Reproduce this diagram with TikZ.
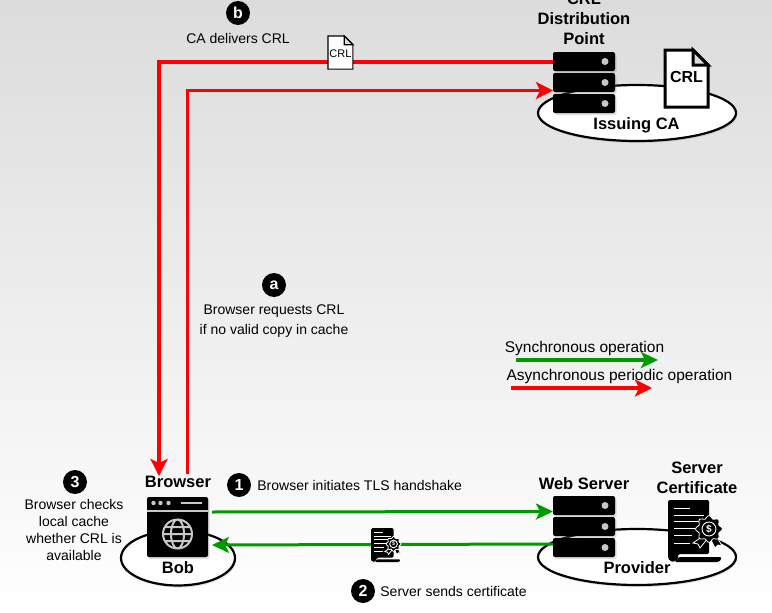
\documentclass[tikz,border=0pt]{standalone}
\usepackage{fontspec}
\setmainfont{Liberation Sans}
\usepackage{tikz}
\usetikzlibrary{shapes.geometric, arrows.meta, positioning, shadows}
\definecolor{bggray}{HTML}{DCDCDC}
\definecolor{syncgreen}{HTML}{009900}
\definecolor{iconlight}{HTML}{C8C8C8}
\tikzstyle{site} = [ellipse, draw = black, fill = white, line width = 2.2pt, inner sep = 0pt,
drop shadow = {shadow xshift = 1pt, shadow yshift = -2pt, opacity = 0.25}]
\tikzstyle{rack} = [rectangle, rounded corners = 2pt, fill = black, minimum width = 62pt, minimum height = 19pt,
inner sep = 0pt, outer sep = 0pt, drop shadow = {shadow xshift = 1.5pt, shadow yshift = -2pt, opacity = 0.25}]
\tikzstyle{title} = [font = \fontsize{16.5}{20}\selectfont\bfseries, align = center, inner sep = 0pt]
\tikzstyle{caption} = [font = \fontsize{14}{20}\selectfont, align = center, inner sep = 0pt]
\tikzstyle{badge} = [circle, fill = black, text = white, minimum size = 24pt, inner sep = 0pt,
font = \fontsize{16}{16}\selectfont\bfseries]
\tikzstyle{redarrow} = [-{Stealth[length = 17pt, width = 17pt, inset = 4pt]}, red]
\tikzstyle{greenarrow} = [-{Stealth[length = 17pt, width = 16pt, inset = 4pt]}, syncgreen, line width = 3pt]
\tikzset{
  pics/crldoc/.style = {code = {
    \draw[fill = white] (0,0) -- (28,0) -- (43,15) -- (43,57) -- (0,57) -- cycle;
    \draw[fill = bggray] (28,0) -- (28,15) -- (43,15) -- cycle;
    \node[inner sep = 0pt] (-label) at (21.5,#1) {CRL};
  }},
  pics/certdoc/.style = {code = {
    \fill[rounded corners = 1.5pt] (0,0) -- (41,0) -- (41,54) -- (10,54) -- (10,59) -- (6,62) -- (2,61) -- (0,58) -- cycle;
    \fill[rounded corners = 1pt] (11,57) -- (53,57) -- (53,60) -- (50,62) -- (7,62) -- cycle;
    \draw[white, line width = 1pt] (6,8) -- (22,8) (6,15) -- (36,15) (6,21) -- (36,21) (6,28) -- (30,28) (6,35) -- (24,35) (6,43) -- (22,43);
    \begin{scope}[shift = {(41,29)}]
      \draw[white, fill = black, line width = 0.8pt] (7,6) -- (13,17) -- (9,16) -- (6,19) -- (1,9) -- cycle;
      \draw[white, fill = black, line width = 0.8pt] (-6,7) -- (-16,14) -- (-11,15) -- (-9,19) -- (-1,9) -- cycle;
      \draw[white, fill = black, line width = 0.8pt] plot[domain = 0:360, samples = 65] ({(12+1.4*cos(8*\x))*cos(\x)},{(12+1.4*cos(8*\x))*sin(\x)}) -- cycle;
      \draw[white, line width = 0.9pt] (0,0) circle (7);
      \node[transform shape, text = white, inner sep = 0pt, font = \fontsize{10}{10}\selectfont\bfseries] (-dollar) at (0,0) {\$};
    \end{scope}
  }}
}

\begin{document}
\begin{tikzpicture}[x = 1pt, y = -1pt]
\useasboundingbox (0,0) rectangle (772,613);
\shade[top color = bggray, bottom color = white] (0,0) rectangle (772,613);

% issuing CA
\node (issuing) [site, minimum width = 198pt, minimum height = 56pt] at (637,113) {};
\node (crlone) [rack] at (584,61.5) {};
\node (crltwo) [rack, below = 2pt of crlone] {};
\node (crlthree) [rack, below = 2pt of crltwo] {};
\node (crltitle) [title] at (584,19) {CRL\\Distribution\\Point};
\node (issuinglabel) [title] at (636.5,125) {Issuing CA};
\pic[line width = 3pt, font = \fontsize{16}{16}\selectfont\bfseries] (bigcrl) at (665,50) {crldoc = 27};

% provider
\node (provider) [site, minimum width = 198pt, minimum height = 56pt] at (637,557) {};
\node (webone) [rack] at (584,505.5) {};
\node (webtwo) [rack, below = 2pt of webone] {};
\node (webthree) [rack, below = 2pt of webtwo] {};
\node (webtitle) [title] at (584,484) {Web Server};
\node (certtitle) [title] at (697,478) {Server\\Certificate};
\pic (bigcert) at (668,500) {certdoc};
\node (providerlabel) [title] at (637,568) {Provider};

\foreach \r in {crlone, crltwo, crlthree, webone, webtwo, webthree}
  \fill[iconlight] ([xshift = -10pt]\r.east) circle (3.5);

% bob
\node (bob) [site, minimum width = 114pt, minimum height = 55pt] at (178,558) {};
\node (browsericon) [rectangle, rounded corners = 2pt, fill = black, minimum width = 61pt, minimum height = 60pt,
inner sep = 0pt, outer sep = 0pt, drop shadow = {shadow xshift = 1.5pt, shadow yshift = -2pt, opacity = 0.25}] at (177.5,527) {};
\begin{scope}[shift = {(browsericon.center)}, iconlight]
  \draw[line width = 1.5pt] (-30.5,-16) -- (30.5,-16);
  \foreach \x in {-24,-17,-9}
    \fill (\x,-24) circle (2.2);
  \draw[line width = 2.5pt] (3,-24) -- (24,-24);
  \draw[line width = 2pt] (0,7) circle (14.5) (0,7) ellipse (6.5 and 14.5) (-14.5,7) -- (14.5,7) (-12.5,0) -- (12.5,0) (-12.5,14) -- (12.5,14);
\end{scope}
\node (browserlabel) [title] at (178,482) {Browser};
\node (boblabel) [title] at (178,568) {Bob};

% connectors
\draw[redarrow, line width = 4pt] (crlone.west) -| ([xshift = -19pt]browserlabel.north);
\draw[redarrow, line width = 3pt] ([xshift = 9.5pt, yshift = 2pt]browserlabel.north) |- ([yshift = -8pt]crltwo.west);
\draw[greenarrow] ([xshift = 4pt, yshift = 15pt]browsericon.east) -- ([yshift = -6pt]webone.west);
\draw[greenarrow] ([yshift = 3.5pt]webthree.west) -- ([xshift = 4pt, yshift = -18pt]browsericon.east);

\pic[line width = 1.1pt, scale = 0.58, font = \fontsize{11}{11}\selectfont] (smallcrl) at (328,36) {crldoc = 31};
\pic[scale = 0.55] (smallcert) at (371,528) {certdoc};

% steps
\node (badgeb) [badge] at (238,13) {b};
\node (stepb) [caption] at (238,38) {CA delivers CRL};
\node (badgea) [badge] at (274,285) {a};
\node (stepa) [caption] at (274,321) {Browser requests CRL\\if no valid copy in cache};
\node (badgeone) [badge] at (239,485) {1};
\node (stepone) [caption, right = 6pt of badgeone] {Browser initiates TLS handshake};
\node (badgetwo) [badge] at (363,591) {2};
\node (steptwo) [caption, right = 5pt of badgetwo] {Server sends certificate};
\node (badgethree) [badge] at (75,482) {3};
\node (stepthree) [caption, font = \fontsize{14}{16.7}\selectfont] at (74,530) {Browser checks\\local cache\\whether CRL is\\available};

% legend
\node (synclabel) [caption, font = \fontsize{15.5}{18}\selectfont] at (584.5,348) {Synchronous operation};
\node (asynclabel) [caption, font = \fontsize{15.5}{18}\selectfont] at (619.5,376) {Asynchronous periodic operation};
\coordinate (syncstart) at (516,360);
\coordinate (syncend) at (658,360);
\coordinate (asyncstart) at (511,388);
\coordinate (asyncend) at (652,388);
\draw[greenarrow, line width = 4pt] (syncstart) -- (syncend);
\draw[redarrow, line width = 4pt] (asyncstart) -- (asyncend);
\end{tikzpicture}
\end{document}
